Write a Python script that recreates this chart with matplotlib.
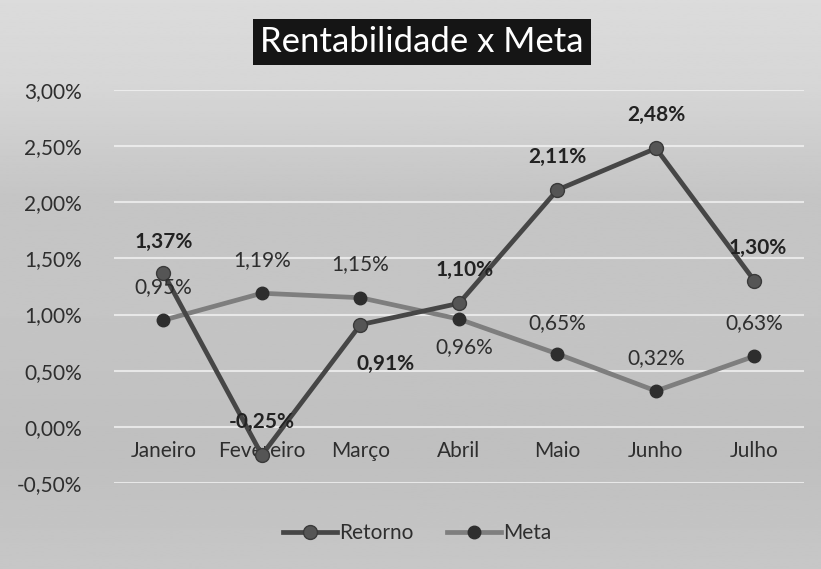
import numpy as np
import matplotlib
matplotlib.use("Agg")
import matplotlib.pyplot as plt

plt.rcParams['font.family'] = ['Lato', 'DejaVu Sans']

meses = ['Janeiro', 'Fevereiro', 'Março', 'Abril', 'Maio', 'Junho', 'Julho']
retorno = [1.37, -0.25, 0.91, 1.10, 2.11, 2.48, 1.30]
meta = [0.95, 1.19, 1.15, 0.96, 0.65, 0.32, 0.63]
yticks = [-0.5, 0.0, 0.5, 1.0, 1.5, 2.0, 2.5, 3.0]

# label offsets in points (dx, dy)
ret_off = [(0, 22), (0, 24), (18, -28), (4, 24), (0, 24), (0, 24), (2, 24)]
meta_off = [(0, 24), (0, 24), (0, 24), (4, -20), (0, 22), (0, 24), (0, 24)]


def pct(v):
    return f"{v:.2f}%".replace('.', ',')


fig = plt.figure(figsize=(8.21, 5.69), dpi=100)

# gray gradient background
bg = fig.add_axes([0, 0, 1, 1], zorder=0)
stops_y = [0.0, 0.15, 0.35, 0.55, 0.8, 1.0]
stops_v = [0.86, 0.84, 0.77, 0.77, 0.75, 0.78]
rows = np.interp(np.linspace(0, 1, 300), stops_y, stops_v)
bg.imshow(rows[:, None], aspect='auto', cmap='gray', vmin=0, vmax=1,
          extent=[0, 1, 0, 1], origin='upper')
bg.axis('off')

ax = fig.add_axes([0.139, 0.151, 0.840, 0.691], zorder=1)
ax.patch.set_alpha(0)
x = np.arange(len(meses))

ax.plot(x, retorno, color='#464646', lw=3.4, marker='o', ms=10,
        mfc='#555555', mec='#3a3a3a', label='Retorno', zorder=4)
ax.plot(x, meta, color='#7e7e7e', lw=3.4, marker='o', ms=9,
        mfc='#2e2e2e', mec='#2e2e2e', label='Meta', zorder=3)

for i, v in enumerate(retorno):
    ax.annotate(pct(v), (x[i], v), xytext=ret_off[i], textcoords='offset points',
                ha='center', va='center', fontsize=15, fontweight='bold',
                color='#222222', zorder=6)
for i, v in enumerate(meta):
    ax.annotate(pct(v), (x[i], v), xytext=meta_off[i], textcoords='offset points',
                ha='center', va='center', fontsize=15, color='#2e2e2e', zorder=6)

ax.set_xlim(-0.5, len(meses) - 0.5)
ax.set_ylim(-0.5, 3.0)
ax.set_yticks(yticks)
ax.set_yticklabels([pct(t) for t in yticks], fontsize=15, color='#2e2e2e')
ax.grid(axis='y', color='#f2f2f2', lw=1.5, alpha=0.8)
ax.set_axisbelow(True)

ax.spines['bottom'].set_position(('data', 0))
for s in ax.spines.values():
    s.set_visible(False)
ax.set_xticks(x)
ax.set_xticklabels(meses, fontsize=15, color='#2e2e2e')
ax.tick_params(axis='both', length=0)
ax.tick_params(axis='x', pad=10)
ax.tick_params(axis='y', pad=23)

fig.text(0.514, 0.926, 'Rentabilidade x Meta', ha='center', va='center',
         fontsize=25, color='white',
         bbox=dict(boxstyle='square,pad=0.2', fc='#151515', ec='none'))

ax.legend(loc='upper center', bbox_to_anchor=(0.44, -0.055), ncol=2,
          frameon=False, fontsize=15, handlelength=2.6, columnspacing=1.6,
          handletextpad=0.1, labelcolor='#2e2e2e')

fig.savefig('out.png', dpi=100)
